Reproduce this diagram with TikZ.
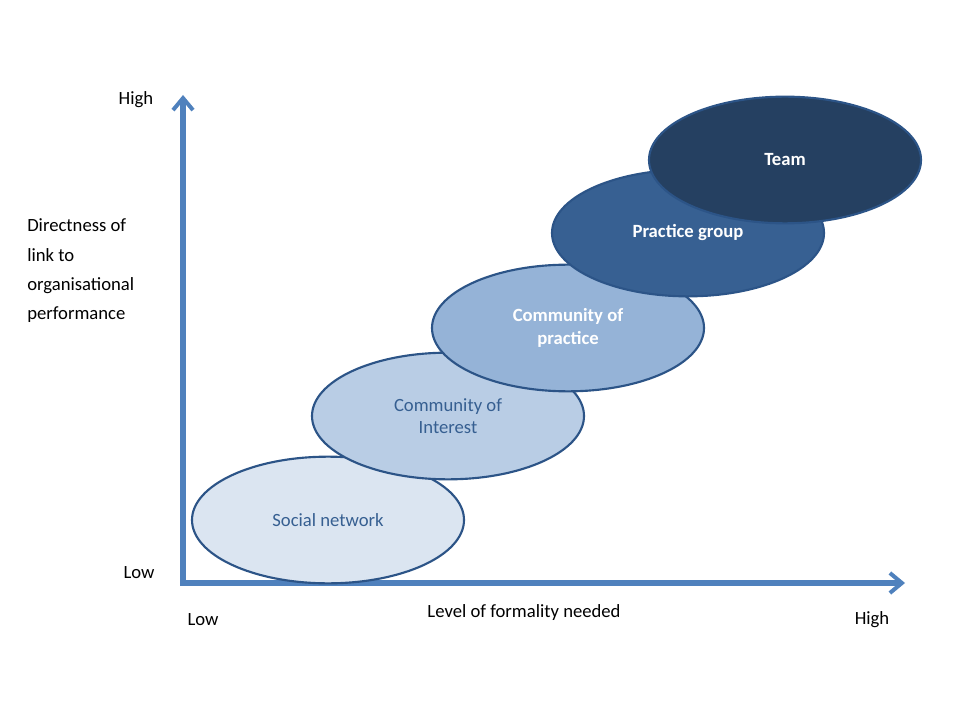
\documentclass[tikz,border=0pt]{standalone}
\usepackage{fontspec}
\setmainfont{Carlito}
\usetikzlibrary{shapes.geometric,arrows.meta}
\definecolor{axis}{HTML}{4F81BD}
\definecolor{edge}{HTML}{2C5487}
\definecolor{txt}{HTML}{365F91}
\definecolor{c1}{HTML}{DBE5F1}
\definecolor{c2}{HTML}{B9CDE5}
\definecolor{c3}{HTML}{95B3D7}
\definecolor{c4}{HTML}{376092}
\definecolor{c5}{HTML}{254061}
\begin{document}
\begin{tikzpicture}[x=0.75pt,y=-0.75pt,
  blob/.style={ellipse,draw=edge,line width=1.6pt,minimum width=204pt,minimum height=95pt,inner sep=0pt,align=center,font=\fontsize{14}{17}\selectfont},
  lbl/.style={font=\fontsize{14}{17}\selectfont,inner sep=0pt},
  ax/.style={draw=axis,line width=3.8pt,-{Straight Barb[length=9pt,width=15pt,line width=3pt]}}]
\useasboundingbox (0,0) rectangle (960,720);
\coordinate (o) at (183,583);
\coordinate (yt) at (183,95);
\coordinate (xr) at (905,583);
\draw[ax] (o) -- (yt);
\draw[ax] ([xshift=-2pt]o) -- (xr);
\node[blob,fill=c1,text=txt] (sn) at (328,520) {Social network};
\node[blob,fill=c2,text=txt] (ci) at (448,416) {Community of\\Interest};
\node[blob,fill=c3,text=white] (cp) at (568,328) {\bfseries Community of\\\bfseries practice};
\node[blob,fill=c4,text=white] (pg) at (688,233) {\bfseries Practice group};
\node[blob,fill=c5,text=white] (tm) at (785,160) {\bfseries Team};
\node[lbl] (yh) at (136,100) {High};
\node[lbl] (yl) at (139,573) {Low};
\node[lbl,align=left,anchor=west,font=\fontsize{14}{22}\selectfont] (yt2) at (27,271) {Directness of\\link to\\organisational\\performance};
\node[lbl] (xl) at (203,620) {Low};
\node[lbl] (xt) at (524,613) {Level of formality needed};
\node[lbl] (xh) at (872,620) {High};
\end{tikzpicture}
\end{document}
